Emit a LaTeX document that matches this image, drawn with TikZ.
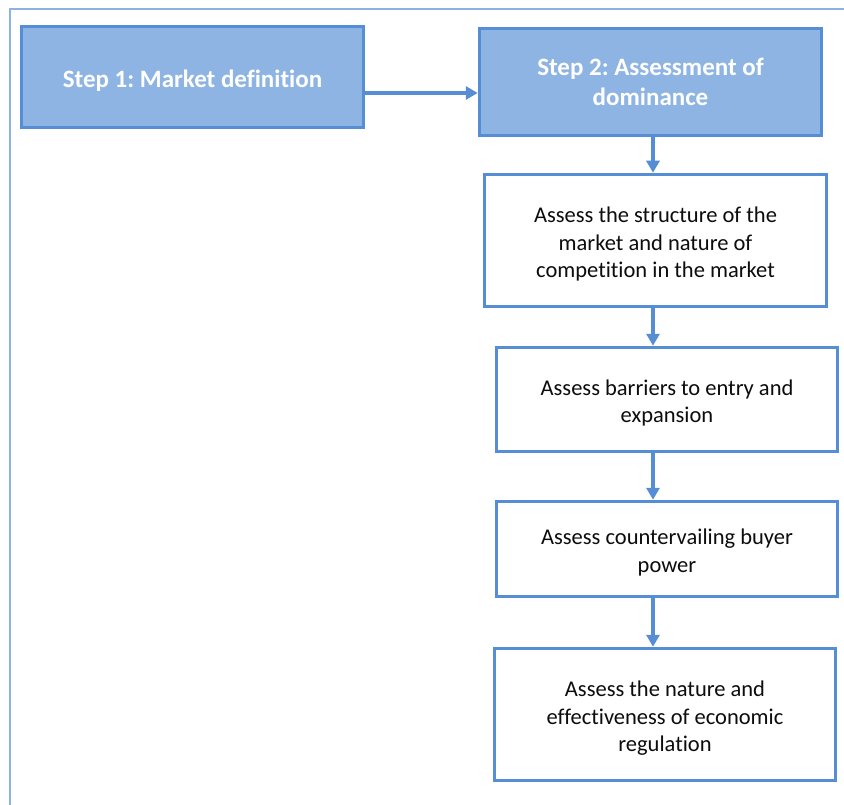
\documentclass[tikz,border=0pt]{standalone}
\usepackage{fontspec}
\setmainfont[Ligatures=NoCommon]{Carlito}
\usetikzlibrary{arrows.meta}
\definecolor{bfill}{HTML}{8EB4E3}
\definecolor{bline}{HTML}{558ED5}
\definecolor{frameline}{HTML}{8DB3E2}
\frenchspacing
\tikzset{
  stepbox/.style={draw=bline, fill=bfill, line width=3.5pt, rectangle, inner sep=0pt,
    font=\fontsize{25}{30}\selectfont\bfseries, text=white, align=center,
    execute at begin node={\rule{0pt}{25pt}}},
  taskbox/.style={draw=bline, fill=white, line width=3.5pt, rectangle, inner sep=0pt,
    font=\fontsize{22.5}{27.5}\selectfont, text=black!95, align=center},
  arr/.style={draw=bline, line width=4pt, -{Triangle[length=12pt,width=13pt]}},
}
\begin{document}
\begin{tikzpicture}[x=1pt,y=-1pt]
\useasboundingbox (0,0) rectangle (844,805);
\draw[frameline, line width=1.2pt] (10,805) -- (10,9) -- (844,9);
\node[stepbox, minimum width=342pt, minimum height=101pt] (s1) at (192.5,77) {Step 1: Market definition};
\node[stepbox, minimum width=342pt, minimum height=107pt] (s2) at (650.5,82) {Step 2: Assessment of\\dominance};
\node[taskbox, minimum width=342pt, minimum height=132pt] (b3) at (655.5,240.5) {\rule{0pt}{23pt}Assess the structure of the\\market and nature of\\competition in the market};
\node[taskbox, minimum width=341pt, minimum height=104pt] (b4) at (667,399.5) {\rule{0pt}{23pt}Assess barriers to entry and\\expansion};
\node[taskbox, minimum width=341pt, minimum height=95pt] (b5) at (667,549) {\rule{0pt}{23pt}Assess countervailing buyer\\power};
\node[taskbox, minimum width=341pt, minimum height=132pt] (b6) at (665,714.5) {\rule{0pt}{23pt}Assess the nature and\\effectiveness of economic\\regulation};
\coordinate (spine) at (653,0);
\coordinate (hy) at (0,93);
\draw[arr] (s1.east |- hy) -- (s2.west |- hy);
\draw[arr] (s2.south -| spine) -- (b3.north -| spine);
\draw[arr] (b3.south -| spine) -- (b4.north -| spine);
\draw[arr] (b4.south -| spine) -- (b5.north -| spine);
\draw[arr] (b5.south -| spine) -- (b6.north -| spine);
\end{tikzpicture}
\end{document}
